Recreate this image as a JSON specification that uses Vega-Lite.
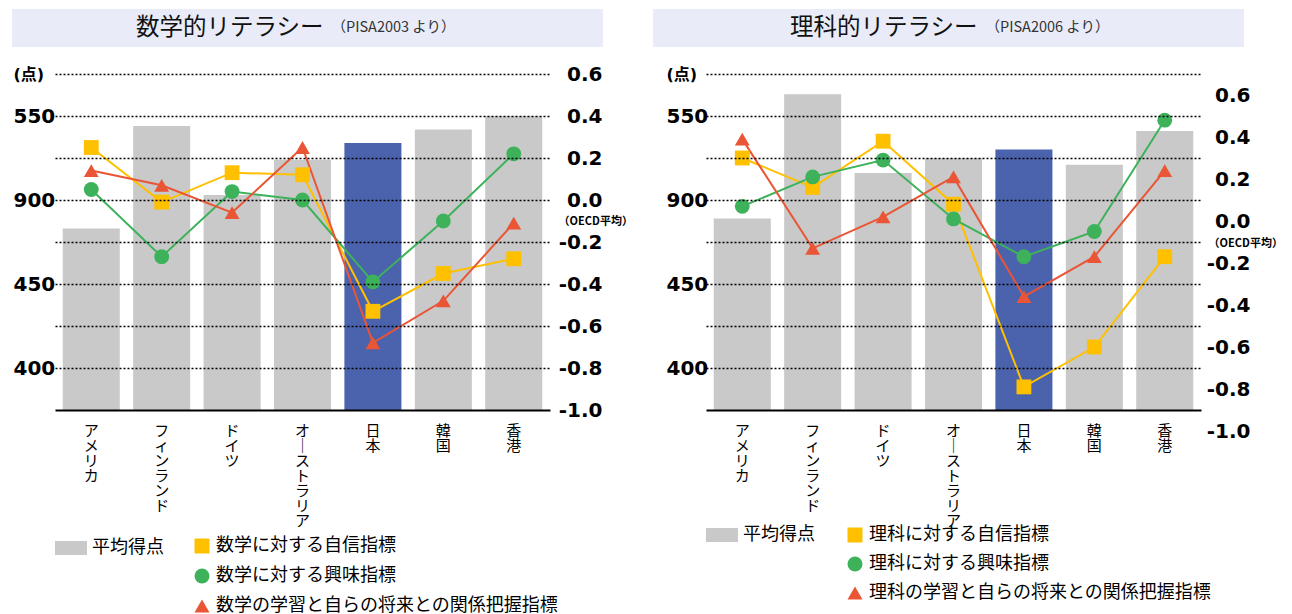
{
  "$schema": "https://vega.github.io/schema/vega-lite/v6.json",
  "padding": {"left": 12, "top": 9, "right": 0, "bottom": 0},
  "background": "white",
  "config": {"view": {"stroke": null}, "font": "Noto Sans CJK JP", "axis": {"labelColor": "#000"}, "legend": {"labelColor": "#000"}},
  "datasets": {
    "mathScore": [
      {"country": "アメリカ", "score": 483},
      {"country": "フィンランド", "score": 544},
      {"country": "ドイツ", "score": 503},
      {"country": "オーストラリア", "score": 524},
      {"country": "日本", "score": 534},
      {"country": "韓国", "score": 542},
      {"country": "香港", "score": 550}
    ],
    "mathIdx": [
      {"country": "アメリカ", "ind": "数学に対する自信指標", "value": 0.25},
      {"country": "フィンランド", "ind": "数学に対する自信指標", "value": -0.01},
      {"country": "ドイツ", "ind": "数学に対する自信指標", "value": 0.13},
      {"country": "オーストラリア", "ind": "数学に対する自信指標", "value": 0.12},
      {"country": "日本", "ind": "数学に対する自信指標", "value": -0.53},
      {"country": "韓国", "ind": "数学に対する自信指標", "value": -0.35},
      {"country": "香港", "ind": "数学に対する自信指標", "value": -0.28},
      {"country": "アメリカ", "ind": "数学に対する興味指標", "value": 0.05},
      {"country": "フィンランド", "ind": "数学に対する興味指標", "value": -0.27},
      {"country": "ドイツ", "ind": "数学に対する興味指標", "value": 0.04},
      {"country": "オーストラリア", "ind": "数学に対する興味指標", "value": 0.0},
      {"country": "日本", "ind": "数学に対する興味指標", "value": -0.39},
      {"country": "韓国", "ind": "数学に対する興味指標", "value": -0.10},
      {"country": "香港", "ind": "数学に対する興味指標", "value": 0.22},
      {"country": "アメリカ", "ind": "数学の学習と自らの将来との関係把握指標", "value": 0.14},
      {"country": "フィンランド", "ind": "数学の学習と自らの将来との関係把握指標", "value": 0.07},
      {"country": "ドイツ", "ind": "数学の学習と自らの将来との関係把握指標", "value": -0.06},
      {"country": "オーストラリア", "ind": "数学の学習と自らの将来との関係把握指標", "value": 0.25},
      {"country": "日本", "ind": "数学の学習と自らの将来との関係把握指標", "value": -0.68},
      {"country": "韓国", "ind": "数学の学習と自らの将来との関係把握指標", "value": -0.48},
      {"country": "香港", "ind": "数学の学習と自らの将来との関係把握指標", "value": -0.11}
    ],
    "sciScore": [
      {"country": "アメリカ", "score": 489},
      {"country": "フィンランド", "score": 563},
      {"country": "ドイツ", "score": 516},
      {"country": "オーストラリア", "score": 525},
      {"country": "日本", "score": 530},
      {"country": "韓国", "score": 521},
      {"country": "香港", "score": 541}
    ],
    "sciIdx": [
      {"country": "アメリカ", "ind": "理科に対する自信指標", "value": 0.30},
      {"country": "フィンランド", "ind": "理科に対する自信指標", "value": 0.16},
      {"country": "ドイツ", "ind": "理科に対する自信指標", "value": 0.38},
      {"country": "オーストラリア", "ind": "理科に対する自信指標", "value": 0.08},
      {"country": "日本", "ind": "理科に対する自信指標", "value": -0.79},
      {"country": "韓国", "ind": "理科に対する自信指標", "value": -0.60},
      {"country": "香港", "ind": "理科に対する自信指標", "value": -0.17},
      {"country": "アメリカ", "ind": "理科に対する興味指標", "value": 0.07},
      {"country": "フィンランド", "ind": "理科に対する興味指標", "value": 0.21},
      {"country": "ドイツ", "ind": "理科に対する興味指標", "value": 0.29},
      {"country": "オーストラリア", "ind": "理科に対する興味指標", "value": 0.01},
      {"country": "日本", "ind": "理科に対する興味指標", "value": -0.17},
      {"country": "韓国", "ind": "理科に対する興味指標", "value": -0.05},
      {"country": "香港", "ind": "理科に対する興味指標", "value": 0.48},
      {"country": "アメリカ", "ind": "理科の学習と自らの将来との関係把握指標", "value": 0.39},
      {"country": "フィンランド", "ind": "理科の学習と自らの将来との関係把握指標", "value": -0.13},
      {"country": "ドイツ", "ind": "理科の学習と自らの将来との関係把握指標", "value": 0.02},
      {"country": "オーストラリア", "ind": "理科の学習と自らの将来との関係把握指標", "value": 0.21},
      {"country": "日本", "ind": "理科の学習と自らの将来との関係把握指標", "value": -0.36},
      {"country": "韓国", "ind": "理科の学習と自らの将来との関係把握指標", "value": -0.17},
      {"country": "香港", "ind": "理科の学習と自らの将来との関係把握指標", "value": 0.24}
    ]
  },
  "resolve": {"scale": {"color": "independent", "shape": "independent", "fill": "independent", "stroke": "independent"}, "legend": {"color": "independent", "shape": "independent", "fill": "independent", "stroke": "independent"}},
  "spacing": 17,
  "vconcat": [
    {
      "spacing": 50,
      "hconcat": [
        {
          "width": 591, "height": 38,
          "view": {"fill": "#E9ECF8", "stroke": null},
          "data": {"values": [{"t": "数学的リテラシー", "s": "（PISA2003 より）"}]},
          "layer": [
            {"mark": {"type": "text", "align": "right", "baseline": "middle", "dx": 16, "fontSize": 23.5, "font": "Noto Sans CJK JP", "fontWeight": "normal", "color": "#111"}, "encoding": {"text": {"field": "t"}}},
            {"mark": {"type": "text", "align": "left", "baseline": "middle", "dx": 24, "fontSize": 14.5, "font": "Noto Sans CJK JP", "color": "#333"}, "encoding": {"text": {"field": "s"}}}
          ]
        },
        {
          "width": 591, "height": 38,
          "view": {"fill": "#E9ECF8", "stroke": null},
          "data": {"values": [{"t": "理科的リテラシー", "s": "（PISA2006 より）"}]},
          "layer": [
            {"mark": {"type": "text", "align": "right", "baseline": "middle", "dx": 29, "fontSize": 23.5, "font": "Noto Sans CJK JP", "fontWeight": "normal", "color": "#111"}, "encoding": {"text": {"field": "t"}}},
            {"mark": {"type": "text", "align": "left", "baseline": "middle", "dx": 37, "fontSize": 14.5, "font": "Noto Sans CJK JP", "color": "#333"}, "encoding": {"text": {"field": "s"}}}
          ]
        }
      ]
    },
    {
      "spacing": 17,
      "resolve": {"scale": {"color": "independent", "shape": "independent", "fill": "independent", "stroke": "independent"}, "legend": {"color": "independent", "shape": "independent", "fill": "independent", "stroke": "independent"}},
      "hconcat": [
        {
          "spacing": 0,
          "resolve": {"scale": {"color": "independent", "shape": "independent", "fill": "independent", "stroke": "independent"}, "legend": {"color": "independent", "shape": "independent", "fill": "independent", "stroke": "independent"}},
          "hconcat": [
            {"width": 1, "height": 1, "data": {"values": [{}]}, "mark": {"type": "point", "size": 0, "opacity": 0, "filled": true, "strokeWidth": 0}},
            {
              "width": 495, "height": 336,
              "encoding": {
                "x": {"field": "country", "type": "nominal",
                  "sort": ["アメリカ", "フィンランド", "ドイツ", "オーストラリア", "日本", "韓国", "香港"],
                  "scale": {"paddingInner": 0.19, "paddingOuter": 0.11},
                  "axis": {"title": null, "zindex": 1, "domainColor": "#000", "domainWidth": 2, "ticks": false, "grid": false, "labelAngle": 0, "labelFont": "Noto Sans CJK JP", "labelFontSize": 15, "labelLineHeight": 15, "labelBaseline": "top", "labelPadding": 13, "labelExpr": "split(replace(datum.label, 'ー', '｜'), '')"}}
              },
              "layer": [
                {
                  "data": {"name": "mathScore"},
                  "mark": {"type": "bar"},
                  "encoding": {
                    "y": {"field": "score", "type": "quantitative", "scale": {"domain": [375, 575], "nice": false, "zero": false},
                      "axis": {"orient": "left", "title": null, "zindex": 1, "values": [400, 425, 450, 475, 500, 525, 550, 575], "grid": true, "gridColor": "#000", "gridDash": [2, 2], "gridWidth": 1.3, "domain": false, "ticks": false,
                        "labelExpr": "datum.value == 575 ? '(点)' : (datum.value == 500 ? '900' : (datum.value % 50 == 0 ? datum.label : ''))",
                        "labelFont": "DejaVu Sans, Noto Sans CJK JP", "labelFontWeight": "bold",
                        "labelFontSize": {"condition": {"test": "datum.value == 575", "value": 16}, "value": 20},
                        "labelAlign": "left", "labelBaseline": "middle", "labelPadding": 42, "minExtent": 42}},
                    "y2": {"datum": 375},
                    "fill": {"datum": "平均得点", "condition": {"test": "datum.country === '日本'", "value": "#4B62AD"},
                      "scale": {"domain": ["平均得点"], "range": ["#C8C9C8"]},
                      "legend": {"orient": "none", "legendX": 0, "legendY": 458, "title": null, "symbolType": "M-1,-0.44H1V0.44H-1Z", "symbolSize": 1024, "symbolStrokeWidth": 0, "labelFont": "Noto Sans CJK JP", "labelFontSize": 18, "labelOffset": 5}}
                  }
                },
                {
                  "encoding": {
                    "y": {"field": "value", "type": "quantitative", "scale": {"domain": [-1.0, 0.6], "nice": false, "zero": false},
                      "axis": {"orient": "right", "title": null, "values": [-1.0, -0.8, -0.6, -0.4, -0.2, 0.0, 0.2, 0.4, 0.6], "grid": false, "domain": false, "ticks": false,
                        "labelExpr": "replace(format(datum.value, '.1f'), '−', '-')",
                        "labelFont": "DejaVu Sans", "labelFontWeight": "bold", "labelFontSize": 20, "labelAlign": "right", "labelBaseline": "middle", "labelPadding": 52}}
                  },
                  "layer": [
                    {
                      "data": {"name": "mathIdx"},
                      "mark": {"type": "line", "strokeWidth": 2},
                      "encoding": {
                        "stroke": {"field": "ind", "type": "nominal", "scale": {"range": ["#FFC000", "#3DB25B", "#EA5535"]}, "legend": null}
                      }
                    },
                    {
                      "data": {"name": "mathIdx"},
                      "mark": {"type": "point", "filled": true, "opacity": 1, "size": 220},
                      "encoding": {
                        "color": {"field": "ind", "type": "nominal", "scale": {"domain": ["数学に対する自信指標", "数学に対する興味指標", "数学の学習と自らの将来との関係把握指標"], "range": ["#FFC000", "#3DB25B", "#EA5535"]},
                          "legend": {"orient": "none", "legendX": 138, "legendY": 463, "title": null, "symbolSize": 225, "symbolStrokeWidth": 0, "labelFont": "Noto Sans CJK JP", "labelFontSize": 18, "labelOffset": 5, "labelLimit": 600, "rowPadding": 12, "direction": "vertical"}},
                        "shape": {"field": "ind", "type": "nominal", "scale": {"domain": ["数学に対する自信指標", "数学に対する興味指標", "数学の学習と自らの将来との関係把握指標"], "range": ["square", "circle", "triangle-up"]},
                          "legend": {"orient": "none", "legendX": 138, "legendY": 463, "title": null, "symbolSize": 225, "symbolStrokeWidth": 0, "labelFont": "Noto Sans CJK JP", "labelFontSize": 18, "labelOffset": 5, "labelLimit": 600, "rowPadding": 12, "direction": "vertical"}}
                      }
                    }
                  ]
                },
                {
                  "data": {"values": [{"country": "香港", "label": "（OECD平均）"}]},
                  "mark": {"type": "text", "dx": 82, "fontSize": 11, "fontWeight": "bold", "font": "Noto Sans CJK JP", "color": "#000", "baseline": "middle", "align": "center"},
                  "encoding": {"y": {"datum": -0.105, "type": "quantitative", "scale": {"domain": [-1.0, 0.6], "nice": false, "zero": false}, "axis": null}, "text": {"field": "label", "type": "nominal"}}
                }
              ],
              "resolve": {"scale": {"y": "independent"}}
            }
          ]
        },
        {
          "spacing": 0,
          "resolve": {"scale": {"color": "independent", "shape": "independent", "fill": "independent", "stroke": "independent"}, "legend": {"color": "independent", "shape": "independent", "fill": "independent", "stroke": "independent"}},
          "hconcat": [
            {"width": 1, "height": 1, "data": {"values": [{}]}, "mark": {"type": "point", "size": 0, "opacity": 0, "filled": true, "strokeWidth": 0}},
            {
              "width": 495, "height": 336,
              "encoding": {
                "x": {"field": "country", "type": "nominal",
                  "sort": ["アメリカ", "フィンランド", "ドイツ", "オーストラリア", "日本", "韓国", "香港"],
                  "scale": {"paddingInner": 0.19, "paddingOuter": 0.11},
                  "axis": {"title": null, "zindex": 1, "domainColor": "#000", "domainWidth": 2, "ticks": false, "grid": false, "labelAngle": 0, "labelFont": "Noto Sans CJK JP", "labelFontSize": 15, "labelLineHeight": 15, "labelBaseline": "top", "labelPadding": 13, "labelExpr": "split(replace(datum.label, 'ー', '｜'), '')"}}
              },
              "layer": [
                {
                  "data": {"name": "sciScore"},
                  "mark": {"type": "bar"},
                  "encoding": {
                    "y": {"field": "score", "type": "quantitative", "scale": {"domain": [375, 575], "nice": false, "zero": false},
                      "axis": {"orient": "left", "title": null, "zindex": 1, "values": [400, 425, 450, 475, 500, 525, 550, 575], "grid": true, "gridColor": "#000", "gridDash": [2, 2], "gridWidth": 1.3, "domain": false, "ticks": false,
                        "labelExpr": "datum.value == 575 ? '(点)' : (datum.value == 500 ? '900' : (datum.value % 50 == 0 ? datum.label : ''))",
                        "labelFont": "DejaVu Sans, Noto Sans CJK JP", "labelFontWeight": "bold",
                        "labelFontSize": {"condition": {"test": "datum.value == 575", "value": 16}, "value": 20},
                        "labelAlign": "left", "labelBaseline": "middle", "labelPadding": 40, "minExtent": 55}},
                    "y2": {"datum": 375},
                    "fill": {"datum": "平均得点", "condition": {"test": "datum.country === '日本'", "value": "#4B62AD"},
                      "scale": {"domain": ["平均得点"], "range": ["#C8C9C8"]},
                      "legend": {"orient": "none", "legendX": 0, "legendY": 445, "title": null, "symbolType": "M-1,-0.44H1V0.44H-1Z", "symbolSize": 1024, "symbolStrokeWidth": 0, "labelFont": "Noto Sans CJK JP", "labelFontSize": 18, "labelOffset": 5}}
                  }
                },
                {
                  "encoding": {
                    "y": {"field": "value", "type": "quantitative", "scale": {"domain": [-0.9, 0.7], "nice": false, "zero": false},
                      "axis": {"orient": "right", "title": null, "values": [-0.9, -0.7, -0.5, -0.3, -0.1, 0.1, 0.3, 0.5, 0.7], "grid": false, "domain": false, "ticks": false,
                        "labelExpr": "replace(format(datum.value - 0.1, '.1f'), '−', '-')", "labelOffset": 21,
                        "labelFont": "DejaVu Sans", "labelFontWeight": "bold", "labelFontSize": 20, "labelAlign": "right", "labelBaseline": "middle", "labelPadding": 49}}
                  },
                  "layer": [
                    {
                      "data": {"name": "sciIdx"},
                      "mark": {"type": "line", "strokeWidth": 2},
                      "encoding": {
                        "stroke": {"field": "ind", "type": "nominal", "scale": {"range": ["#FFC000", "#3DB25B", "#EA5535"]}, "legend": null}
                      }
                    },
                    {
                      "data": {"name": "sciIdx"},
                      "mark": {"type": "point", "filled": true, "opacity": 1, "size": 220},
                      "encoding": {
                        "color": {"field": "ind", "type": "nominal", "scale": {"domain": ["理科に対する自信指標", "理科に対する興味指標", "理科の学習と自らの将来との関係把握指標"], "range": ["#FFC000", "#3DB25B", "#EA5535"]},
                          "legend": {"orient": "none", "legendX": 140, "legendY": 452, "title": null, "symbolSize": 225, "symbolStrokeWidth": 0, "labelFont": "Noto Sans CJK JP", "labelFontSize": 18, "labelOffset": 5, "labelLimit": 600, "rowPadding": 11, "direction": "vertical"}},
                        "shape": {"field": "ind", "type": "nominal", "scale": {"domain": ["理科に対する自信指標", "理科に対する興味指標", "理科の学習と自らの将来との関係把握指標"], "range": ["square", "circle", "triangle-up"]},
                          "legend": {"orient": "none", "legendX": 140, "legendY": 452, "title": null, "symbolSize": 225, "symbolStrokeWidth": 0, "labelFont": "Noto Sans CJK JP", "labelFontSize": 18, "labelOffset": 5, "labelLimit": 600, "rowPadding": 11, "direction": "vertical"}}
                      }
                    }
                  ]
                },
                {
                  "data": {"values": [{"country": "香港", "label": "（OECD平均）"}]},
                  "mark": {"type": "text", "dx": 81, "fontSize": 11, "fontWeight": "bold", "font": "Noto Sans CJK JP", "color": "#000", "baseline": "middle", "align": "center"},
                  "encoding": {"y": {"datum": -0.11, "type": "quantitative", "scale": {"domain": [-0.9, 0.7], "nice": false, "zero": false}, "axis": null}, "text": {"field": "label", "type": "nominal"}}
                }
              ],
              "resolve": {"scale": {"y": "independent"}}
            }
          ]
        }
      ]
    }
  ]
}
